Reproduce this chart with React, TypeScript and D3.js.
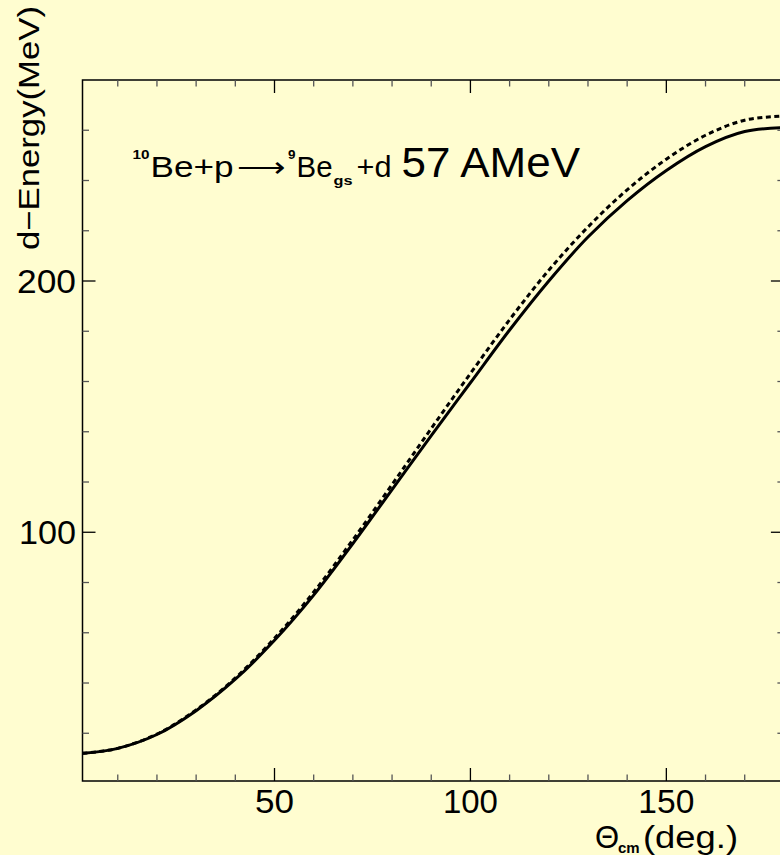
import React from 'react';
import * as d3 from 'd3';

const angles = [1, 10, 20, 30, 40, 50, 60, 70, 80, 90, 100, 110, 120, 130, 140, 150, 160, 170, 180];
const solidEnergy = [12.0, 14.0, 19.5, 29.0, 41.5, 57.0, 75.0, 95.5, 117.0, 138.5, 159.5, 180.5, 200.0, 217.5, 232.0, 244.0, 253.5, 259.5, 261.0];
const dashedEnergy = [12.0, 14.0, 19.7, 29.3, 42.0, 57.8, 76.2, 97.0, 119.0, 141.3, 163.2, 184.6, 204.3, 221.5, 236.3, 248.5, 258.0, 264.0, 265.7];
const xMajorTicks = [50, 100, 150];
const xMinorTicks = [10, 20, 30, 40, 60, 70, 80, 90, 110, 120, 130, 140, 160, 170];
const yMajorTicks = [100, 200];
const yMinorTicks = [20, 40, 60, 80, 120, 140, 160, 180, 220, 240, 260];
const xTickWidths: Record<number, number> = { 50: 39, 100: 55, 150: 56 };
const yTickWidths: Record<number, number> = { 100: 57, 200: 59 };

const W = 780;
const H = 855;
const BG = '#fffdd0';
const FONT = '"Liberation Sans", Arial, Helvetica, sans-serif';

export default function App() {
  const x = d3.scaleLinear().domain([1, 180]).range([82.5, 783.9]);
  const y = d3.scaleLinear().domain([1, 280]).range([781, 80]);
  const [x0, x1] = x.range();
  const [yb, yt] = y.range();

  const line = d3
    .line<number>()
    .x((_, i) => x(angles[i]))
    .y((v) => y(v))
    .curve(d3.curveCatmullRom.alpha(0.5));

  const majorLen = 13;
  const minorLen = 6.5;

  return (
    <svg
      width={W}
      height={H}
      style={{ position: 'absolute', left: 0, top: 0, background: BG }}
    >
      <rect x={0} y={0} width={W} height={H} fill={BG} />
      <defs>
        <clipPath id="plotclip">
          <rect x={x0} y={yt} width={x1 - x0} height={yb - yt} />
        </clipPath>
      </defs>

      {/* curves */}
      <g clipPath="url(#plotclip)">
        <path d={line(solidEnergy) || ''} fill="none" stroke="#000" strokeWidth={3} />
        <path
          d={line(dashedEnergy) || ''}
          fill="none"
          stroke="#000"
          strokeWidth={3}
          strokeDasharray="5,3.5"
        />
      </g>

      {/* frame */}
      <rect x={x0} y={yt} width={x1 - x0} height={yb - yt} fill="none" stroke="#000" strokeWidth={1.5} />

      {/* x ticks bottom & top */}
      {xMajorTicks.map((t) => (
        <g key={'xM' + t}>
          <line x1={x(t)} x2={x(t)} y1={yb} y2={yb - majorLen} stroke="#000" strokeWidth={1.3} />
          <line x1={x(t)} x2={x(t)} y1={yt} y2={yt + majorLen} stroke="#000" strokeWidth={1.3} />
        </g>
      ))}
      {xMinorTicks.map((t) => (
        <g key={'xm' + t}>
          <line x1={x(t)} x2={x(t)} y1={yb} y2={yb - minorLen} stroke="#555" strokeWidth={1.3} />
          <line x1={x(t)} x2={x(t)} y1={yt} y2={yt + minorLen} stroke="#555" strokeWidth={1.3} />
        </g>
      ))}
      {/* y ticks left & right */}
      {yMajorTicks.map((t) => (
        <g key={'yM' + t}>
          <line x1={x0} x2={x0 + majorLen} y1={y(t)} y2={y(t)} stroke="#000" strokeWidth={1.3} />
          <line x1={x1} x2={x1 - majorLen} y1={y(t)} y2={y(t)} stroke="#000" strokeWidth={1.3} />
        </g>
      ))}
      {yMinorTicks.map((t) => (
        <g key={'ym' + t}>
          <line x1={x0} x2={x0 + minorLen} y1={y(t)} y2={y(t)} stroke="#555" strokeWidth={1.3} />
          <line x1={x1} x2={x1 - minorLen} y1={y(t)} y2={y(t)} stroke="#555" strokeWidth={1.3} />
        </g>
      ))}

      {/* tick labels */}
      {xMajorTicks.map((t) => (
        <text
          key={'xl' + t}
          x={x(t) - xTickWidths[t] / 2}
          y={813}
          fontFamily={FONT}
          fontSize={33}
          textLength={xTickWidths[t]}
          lengthAdjust="spacingAndGlyphs"
          fill="#000"
        >
          {String(t)}
        </text>
      ))}
      {yMajorTicks.map((t) => (
        <text
          key={'yl' + t}
          x={76 - yTickWidths[t]}
          y={y(t) + 12}
          fontFamily={FONT}
          fontSize={33}
          textLength={yTickWidths[t]}
          lengthAdjust="spacingAndGlyphs"
          fill="#000"
        >
          {String(t)}
        </text>
      ))}

      {/* axis titles */}
      <text
        transform="translate(39,250) rotate(-90)"
        fontFamily={FONT}
        fontSize={30}
        textLength={244}
        lengthAdjust="spacingAndGlyphs"
        fill="#000"
      >
        d−Energy(MeV)
      </text>
      <g fontFamily={FONT} fill="#000">
        <text x={595} y={848} fontSize={31}>Θ</text>
        <text x={618} y={853} fontSize={15} fontWeight="bold">cm</text>
        <text x={643} y={848} fontSize={31} textLength={95} lengthAdjust="spacingAndGlyphs">(deg.)</text>
      </g>

      {/* reaction annotation */}
      <g fontFamily={FONT} fill="#000">
        <text x={132.5} y={158.5} fontSize={12} fontWeight="bold" textLength={17} lengthAdjust="spacingAndGlyphs">10</text>
        <text x={150.5} y={176.7} fontSize={30} textLength={83} lengthAdjust="spacingAndGlyphs">Be+p</text>
        <text x={236.5} y={177} fontSize={29} textLength={49} lengthAdjust="spacingAndGlyphs">⟶</text>
        <text x={288} y={158.5} fontSize={12} fontWeight="bold" textLength={7.5} lengthAdjust="spacingAndGlyphs">9</text>
        <text x={296.5} y={176.7} fontSize={30} textLength={36} lengthAdjust="spacingAndGlyphs">Be</text>
        <text x={333.5} y={185} fontSize={13} fontWeight="bold" textLength={19} lengthAdjust="spacingAndGlyphs">gs</text>
        <text x={356.5} y={176.7} fontSize={30} textLength={35} lengthAdjust="spacingAndGlyphs">+d</text>
        <text x={401.5} y={176.7} fontSize={43} textLength={178.5} lengthAdjust="spacingAndGlyphs">57 AMeV</text>
      </g>
    </svg>
  );
}
